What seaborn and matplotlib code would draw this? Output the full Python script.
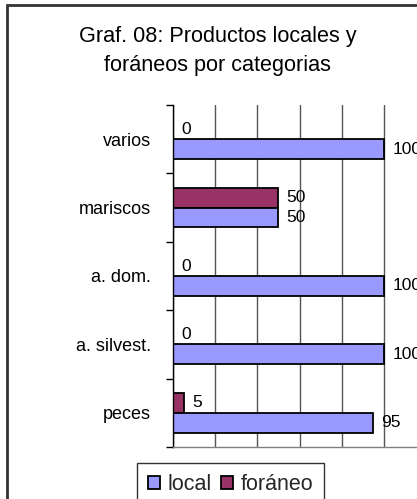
import matplotlib
matplotlib.use("Agg")
import matplotlib.pyplot as plt
from matplotlib.patches import Patch, Rectangle
import seaborn as sns
import pandas as pd

categories = ["varios", "mariscos", "a. dom.", "a. silvest.", "peces"]
local = [100, 50, 100, 100, 95]
foraneo = [0, 50, 0, 0, 5]
series_names = ["local", "foráneo"]
title_lines = ["Graf. 08: Productos locales y", "foráneos por categorias"]

df = pd.DataFrame({
    "categoria": categories * 2,
    "valor": local + foraneo,
    "serie": ["local"] * len(categories) + ["foráneo"] * len(categories),
})

sns.set_theme(style="white")
plt.rcParams["font.family"] = ["Liberation Sans", "DejaVu Sans"]

colors = {"local": "#9999FF", "foráneo": "#993366"}

fig = plt.figure(figsize=(4.17, 4.99), dpi=100)
fig.patch.set_facecolor("white")
W, H = 417, 499
ax = fig.add_axes([173 / W, 1 - 447 / H, 253 / W, 342 / H])

sns.barplot(data=df, y="categoria", x="valor", hue="serie",
            hue_order=["foráneo", "local"], order=categories,
            palette=colors, saturation=1, orient="h", width=0.58,
            edgecolor="black", linewidth=1.3, ax=ax, legend=False)

for c in ax.containers:
    ax.bar_label(c, padding=6, fontsize=12.5, color="black")

ax.set_xlim(0, 120)
ax.set_ylim(4.5, -0.5)
ax.set_xticks(range(0, 121, 20))
ax.set_xticklabels([])
ax.tick_params(axis="x", length=0)
ax.grid(axis="x", color="#555555", linewidth=1.0)
ax.grid(axis="y", visible=False)
ax.set_axisbelow(True)
ax.set_xlabel("")
ax.set_ylabel("")
ax.set_yticks(range(len(categories)))
ax.set_yticklabels(categories, fontsize=13, color="black")
ax.set_yticks([i - 0.5 for i in range(len(categories) + 1)], minor=True)
ax.tick_params(axis="y", which="major", length=0, pad=16)
ax.tick_params(axis="y", which="minor", length=5, width=1, color="black", left=True)
for s in ["top", "right"]:
    ax.spines[s].set_visible(False)
ax.spines["left"].set_color("black")
ax.spines["left"].set_linewidth(1.0)
ax.spines["bottom"].set_color("#808080")
ax.spines["bottom"].set_linewidth(1.0)

# outer chart border
fig.patches.append(Rectangle((7 / W, -0.1), 1.2, 1 - 5 / H + 0.1,
                             transform=fig.transFigure, fill=False,
                             edgecolor="#333333", linewidth=2, clip_on=False))

fig.text(0.522, 1 - 42 / H, title_lines[0], ha="center", va="baseline",
         fontsize=15.6, color="black")
fig.text(0.522, 1 - 71 / H, title_lines[1], ha="center", va="baseline",
         fontsize=15.6, color="black")

handles = [Patch(facecolor=colors[n], edgecolor="black", linewidth=1.3, label=n)
           for n in series_names]
leg = fig.legend(handles=handles, loc="upper left",
                 bbox_to_anchor=(137 / W, 1 - 463 / H), ncol=2, fontsize=15.5,
                 frameon=True, fancybox=False, handlelength=0.55,
                 handleheight=0.55, handletextpad=0.35, columnspacing=0.45,
                 borderpad=0.5, borderaxespad=0)
leg.get_frame().set_edgecolor("black")
leg.get_frame().set_linewidth(1.0)

fig.savefig("out.png", dpi=100, facecolor="white")
